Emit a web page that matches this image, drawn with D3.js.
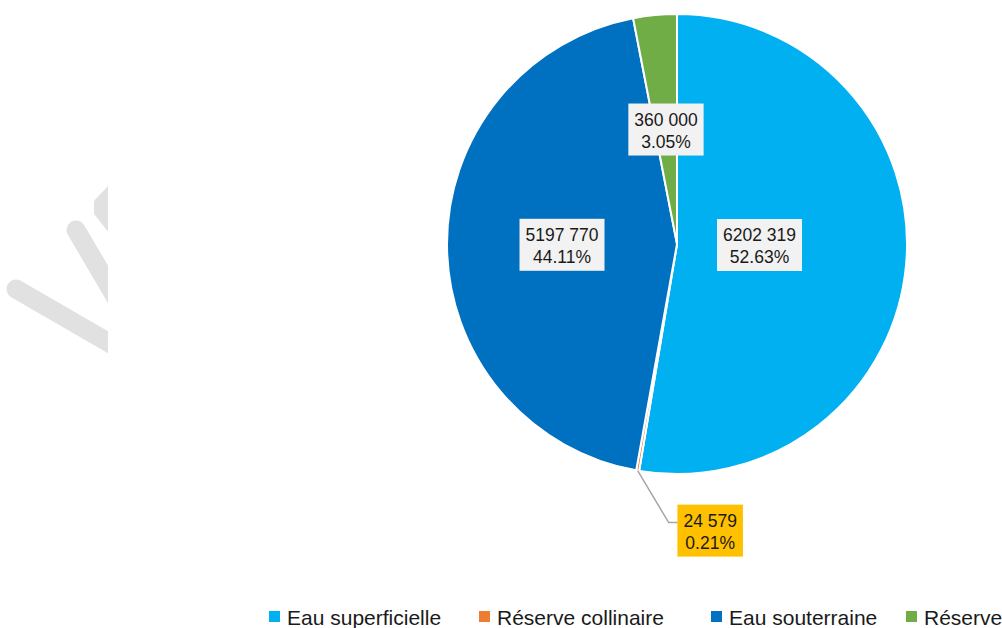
<!DOCTYPE html>
<html><head><meta charset="utf-8">
<script src="https://cdn.jsdelivr.net/npm/d3@7"></script>
<style>
html,body{margin:0;padding:0;background:#fff;overflow:hidden}
svg{display:block}
text{font-family:"Liberation Sans",Arial,sans-serif}
</style></head>
<body>
<script>
const categories = ["Eau superficielle", "Réserve collinaire", "Eau souterraine", "Réserve"];
const values = [6202319, 24579, 5197770, 360000];
const valueLabels = ["6202 319", "24 579", "5197 770", "360 000"];
const percentLabels = ["52.63%", "0.21%", "44.11%", "3.05%"];
const colors = ["#00B0F0", "#ED7D31", "#0070C0", "#70AD47"];

const W = 1002, H = 628;
const svg = d3.select("body").append("svg").attr("width", W).attr("height", H);

// faint watermark strokes on the left
const wm = svg.append("g").attr("clip-path", "url(#wmclip)");
svg.append("defs").append("clipPath").attr("id", "wmclip")
  .append("rect").attr("x", 0).attr("y", 0).attr("width", 108).attr("height", H);
wm.append("line").attr("x1", 16).attr("y1", 289).attr("x2", 130).attr("y2", 355)
  .attr("stroke", "#e1e1e1").attr("stroke-width", 19).attr("stroke-linecap", "round");
wm.append("line").attr("x1", 76).attr("y1", 230).attr("x2", 125).attr("y2", 313)
  .attr("stroke", "#e1e1e1").attr("stroke-width", 19).attr("stroke-linecap", "round");
wm.append("path").attr("d", "M112,186 L97,202 L97,213 L112,232 Z")
  .attr("fill", "#e1e1e1").attr("stroke", "#e1e1e1").attr("stroke-width", 6).attr("stroke-linejoin", "round");

const cx = 677, cy = 244, R = 230;
const g = svg.append("g").attr("transform", `translate(${cx},${cy})`);

const pie = d3.pie().sort(null).value(d => d)(values);
const arc = d3.arc().innerRadius(0).outerRadius(R);

g.selectAll("path.slice").data(pie).enter().append("path")
  .attr("class", "slice")
  .attr("d", arc)
  .attr("fill", (d, i) => colors[i])
  .attr("stroke", "#fff").attr("stroke-width", 2).attr("stroke-linejoin", "round");

// labels
const lineH = 22, fs = 17.5, padX = 6, boxH = 52;
function drawLabel(i, x, y, fill) {
  const lg = g.append("g").attr("transform", `translate(${x},${y})`);
  const rect = lg.append("rect").attr("fill", fill);
  const t1 = lg.append("text").attr("text-anchor", "middle").attr("y", -4).attr("font-size", fs).attr("fill", "#1a1a1a").text(valueLabels[i]);
  const t2 = lg.append("text").attr("text-anchor", "middle").attr("y", lineH - 4).attr("font-size", fs).attr("fill", "#1a1a1a").text(percentLabels[i]);
  const w = Math.max(t1.node().getComputedTextLength(), t2.node().getComputedTextLength()) + padX * 2;
  rect.attr("x", -w / 2).attr("y", -boxH / 2).attr("width", w).attr("height", boxH);
  return w;
}

pie.forEach((d, i) => {
  const mid = (d.startAngle + d.endAngle) / 2;
  if (i === 1) {
    // small slice: leader line to outside label
    const px = R * Math.sin(mid), py = -R * Math.cos(mid);
    const ex = px + 31, ey = py + 52;
    g.append("polyline")
      .attr("points", `${px},${py} ${ex},${ey} ${ex + 9},${ey}`)
      .attr("fill", "none").attr("stroke", "#a6a6a6").attr("stroke-width", 1.5);
    const w = 65;
    drawLabel(i, ex + 9 + w / 2, ey + 8, "#FFC000");
  } else {
    const f = i === 0 ? 0.36 : 0.5;
    const x = f * R * Math.sin(mid), y = -f * R * Math.cos(mid);
    drawLabel(i, x, i === 0 ? 1 : y, "#F2F2F2");
  }
});

// legend
const legendX = [269, 479, 711, 906];
const leg = svg.append("g").attr("transform", "translate(0,617)");
categories.forEach((c, i) => {
  leg.append("rect").attr("x", legendX[i]).attr("y", -6).attr("width", 11).attr("height", 11).attr("fill", colors[i]);
  leg.append("text").attr("x", legendX[i] + 18).attr("y", 7.5).attr("font-size", 21).attr("fill", "#1a1a1a").text(c);
});
</script>
</body></html>
